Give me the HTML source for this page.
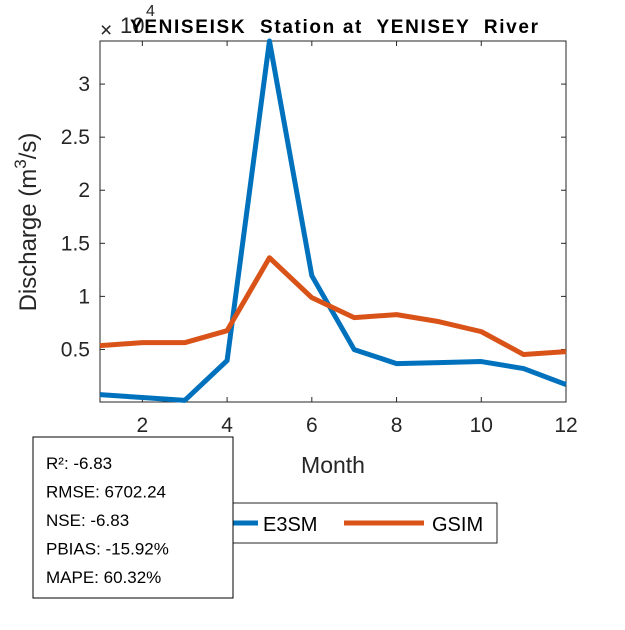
<!DOCTYPE html>
<html><head><meta charset="utf-8"><style>
body{margin:0;background:#fff;font-family:"Liberation Sans",sans-serif}
svg text{font-family:"Liberation Sans",sans-serif}
</style></head><body>
<svg width="625" height="625">
<g id="g"></g>
</svg>
<script>
const months=[1,2,3,4,5,6,7,8,9,10,11,12];
const e3sm=[750,470,200,3950,34060,11950,4990,3670,3760,3860,3200,1690];
const gsim=[5360,5640,5640,6770,13640,9880,8000,8280,7620,6680,4520,4800];
const xTicks=[2,4,6,8,10,12];
const yTicks=[5000,10000,15000,20000,25000,30000];
const yTickLabels=["0.5","1","1.5","2","2.5","3"];
const L=100,R=566,T=41,B=402;
const all=e3sm.concat(gsim);
const ymin=Math.min(...all)-150,ymax=Math.max(...all);
const xs=v=>L+(v-1)/(11)*(R-L);
const ys=v=>B-(v-ymin)/(ymax-ymin)*(B-T);
const ns="http://www.w3.org/2000/svg";
const g=document.getElementById('g');
function mk(t,a,txt){const e=document.createElementNS(ns,t);for(const k in a)e.setAttribute(k,a[k]);if(txt!==undefined)e.textContent=txt;g.appendChild(e);return e;}
let e;
e=mk('rect',{x:L,y:T,width:R-L,height:B-T,fill:'#fff',stroke:'#262626','stroke-width':1});

xTicks.forEach(v=>{const x=xs(v);
e=mk('line',{x1:x,x2:x,y1:B,y2:B-5,stroke:'#262626'});
e=mk('line',{x1:x,x2:x,y1:T,y2:T+5,stroke:'#262626'});
e=mk('text',{x:x,y:B+30,'text-anchor':'middle','font-size':21,fill:'#262626'},String(v));});
yTicks.forEach((v,i)=>{const y=ys(v);
e=mk('line',{x1:L,x2:L+5,y1:y,y2:y,stroke:'#262626'});
e=mk('line',{x1:R,x2:R-5,y1:y,y2:y,stroke:'#262626'});
e=mk('text',{x:L-10,y:y+7,'text-anchor':'end','font-size':21,fill:'#262626'},yTickLabels[i]);});
function line(d,c,n){e=mk('polyline',{points:d.map((v,i)=>xs(months[i])+','+ys(v)).join(' '),fill:'none',stroke:c,'stroke-width':5,'stroke-linejoin':'round'});}
line(e3sm,'#0072BD','e3sm-line');line(gsim,'#D95319','gsim-line');
e=mk('text',{x:100,y:37,'font-size':21,fill:'#262626'},'×');
e=mk('text',{x:120,y:33,'font-size':22,fill:'#262626'},'10');
e=mk('text',{x:146,y:16,'font-size':16,fill:'#262626'},'4');
e=mk('text',{x:130,y:33,'font-size':19,'font-weight':'bold',fill:'#000',style:'white-space:pre',textLength:408,lengthAdjust:'spacing'},'YENISEISK  Station at  YENISEY  River');
e=mk('text',{x:333,y:473,'text-anchor':'middle','font-size':23,fill:'#262626'},'Month');
e=mk('text',{transform:'translate(36,222) rotate(-90)','text-anchor':'middle','font-size':24,fill:'#262626'});
e.innerHTML='Discharge (m<tspan dy="-10" font-size="17">3</tspan><tspan dy="10">/s)</tspan>';
e=mk('rect',{x:232,y:503,width:265,height:40,fill:'#fff',stroke:'#262626'});
e=mk('line',{x1:200,x2:258,y1:523,y2:523,stroke:'#0072BD','stroke-width':5});
e=mk('text',{x:263,y:531,'font-size':20,fill:'#000'},'E3SM');
e=mk('line',{x1:344,x2:424,y1:523,y2:523,stroke:'#D95319','stroke-width':5});
e=mk('text',{x:432,y:531,'font-size':20,fill:'#000'},'GSIM');
e=mk('rect',{x:33,y:437,width:200,height:161,fill:'#fff',stroke:'#000'});
['R²: -6.83','RMSE: 6702.24','NSE: -6.83','PBIAS: -15.92%','MAPE: 60.32%'].forEach((s,i)=>{
e=mk('text',{x:46,y:469+i*28.5,'font-size':17,fill:'#000'},s);});
</script>
</body></html>
